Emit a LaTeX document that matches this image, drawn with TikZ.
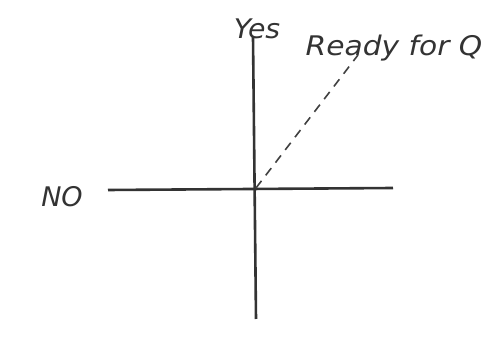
\documentclass[tikz,border=0pt]{standalone}
\usepackage{fontspec}
\setmainfont{DejaVu Sans}
\begin{document}
\begin{tikzpicture}[x=1pt,y=1pt,
  axis/.style={line width=2.6pt,draw=black!80},
  guide/.style={line width=1.6pt,draw=black!75,dash pattern=on 9pt off 7pt},
  hand/.style={font=\fontsize{27}{29}\selectfont\itshape,text=black!80,inner sep=0pt}]
\fill[white] (0,0) rectangle (488,337);
\useasboundingbox (0,0) rectangle (488,337);
\coordinate (top) at (253,300);
\coordinate (bot) at (256,18);
\coordinate (left) at (108,147);
\coordinate (right) at (393,149);
\coordinate (o) at (256,149);
\coordinate (q) at (358,282);
\draw[axis] (top) -- (bot);
\draw[axis] (left) -- (right);
\draw[guide] (o) -- (q);
\node[hand,xscale=1.05] (yes) at (257,308) {Yes};
\node[hand,xscale=1.1] (ready) at (394,289) {Ready for Q};
\node[hand] (no) at (62,140) {NO};
\end{tikzpicture}
\end{document}
